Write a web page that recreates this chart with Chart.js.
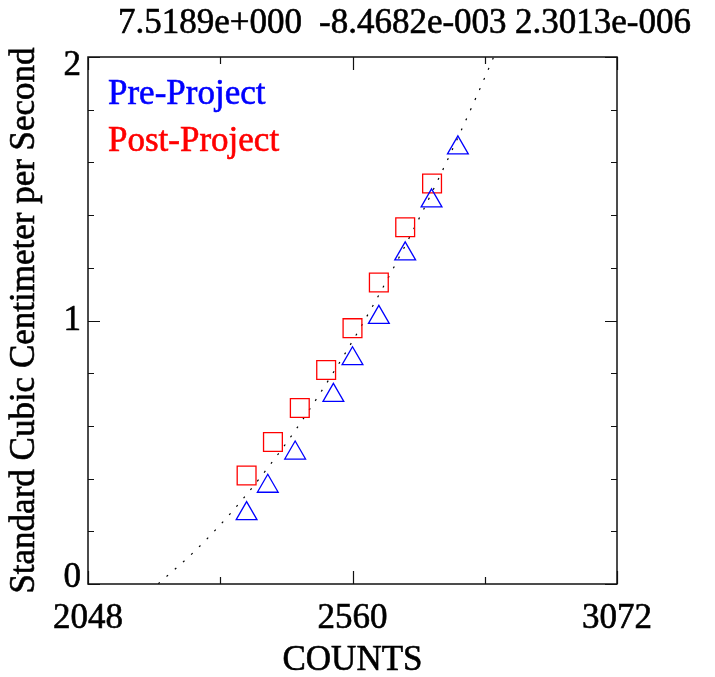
<!DOCTYPE html>
<html><head><meta charset="utf-8">
<script src="https://cdn.jsdelivr.net/npm/chart.js@4/dist/chart.umd.min.js"></script>
<style>html,body{margin:0;padding:0;background:#fff}#wrap{width:715px;height:677px;position:relative}</style>
</head><body><div id="wrap"><canvas id="c" width="715" height="677"></canvas></div>
<script>
// ---- data ----
const fitCoefficients = ['7.5189e+000', '-8.4682e-003', '2.3013e-006'];
const preLabel = 'Pre-Project';
const postLabel = 'Post-Project';
const preCounts = [2355, 2396, 2449, 2523, 2560, 2611, 2662, 2713, 2764];
const preFlow   = [0.267, 0.371, 0.497, 0.716, 0.855, 1.012, 1.253, 1.454, 1.655];
const postCounts = [2355, 2406, 2458, 2509, 2560, 2611, 2662, 2714];
const postFlow   = [0.412, 0.539, 0.668, 0.812, 0.971, 1.144, 1.354, 1.520];
const fitCounts = [2184, 2250, 2300, 2350, 2400, 2450, 2500, 2550, 2600, 2650, 2700, 2750, 2800, 2833];
const fitFlow   = [0.001, 0.116, 0.216, 0.328, 0.451, 0.585, 0.732, 0.889, 1.058, 1.239, 1.431, 1.635, 1.850, 1.999];
const xTickLabels = [2048, 2560, 3072];
const xMinorTicks = [2304, 2816];
const yTickLabels = [0, 1, 2];
const yMinorTicks = [0.2, 0.4, 0.6, 0.8, 1.2, 1.4, 1.6, 1.8];
const xTitle = 'COUNTS';
const yTitle = 'Standard Cubic Centimeter per Second';

const FONT = 'Liberation Serif';
const pts = (xs, ys) => xs.map((v, i) => ({x: v, y: ys[i]}));

function heavyText(ctx, t, x, y, color) {
  ctx.fillStyle = color; ctx.strokeStyle = color;
  ctx.lineWidth = 0.6;
  ctx.fillText(t, x, y);
  ctx.strokeText(t, x, y);
}

const frameTicks = {
  id: 'frameTicks',
  afterDatasetsDraw(chart) {
    const {ctx, chartArea: {left, right, top, bottom}, scales: {x, y}} = chart;
    ctx.save();
    ctx.strokeStyle = '#111';
    ctx.lineWidth = 1.5;
    ctx.strokeRect(left, top, right - left, bottom - top);
    ctx.lineWidth = 1.2;
    ctx.beginPath();
    const xt = (v, len) => {
      const px = Math.round(x.getPixelForValue(v)) + 0.5;
      ctx.moveTo(px, bottom); ctx.lineTo(px, bottom - len);
      ctx.moveTo(px, top); ctx.lineTo(px, top + len);
    };
    const yt = (v, len) => {
      const py = Math.round(y.getPixelForValue(v)) + 0.5;
      ctx.moveTo(left, py); ctx.lineTo(left + len, py);
      ctx.moveTo(right, py); ctx.lineTo(right - len, py);
    };
    xTickLabels.forEach(v => xt(v, 13));
    xMinorTicks.forEach(v => xt(v, 7));
    yTickLabels.forEach(v => yt(v, 12));
    yMinorTicks.forEach(v => yt(v, 6));
    ctx.stroke();
    ctx.restore();
  },
  afterDraw(chart) {
    const {ctx, scales: {x, y}, chartArea: {left, right, top, bottom}} = chart;
    ctx.save();
    ctx.font = '35px "' + FONT + '"';
    // y tick labels
    ctx.textAlign = 'right';
    ctx.textBaseline = 'middle';
    const yShift = [-6, 0, 9];
    yTickLabels.forEach((v, i) => heavyText(ctx, String(v), left - 7, y.getPixelForValue(v) + yShift[i], '#000'));
    // x tick labels
    ctx.textAlign = 'center';
    ctx.textBaseline = 'top';
    xTickLabels.forEach(v => heavyText(ctx, String(v), x.getPixelForValue(v), bottom + 17, '#000'));
    // x title
    ctx.textBaseline = 'middle';
    heavyText(ctx, xTitle, (left + right) / 2, 661, '#000');
    // y title
    ctx.save();
    ctx.translate(25, (top + bottom) / 2);
    ctx.rotate(-Math.PI / 2);
    heavyText(ctx, yTitle, 0, 0, '#000');
    ctx.restore();
    // fit coefficients on top
    ctx.textBaseline = 'alphabetic';
    ctx.textAlign = 'left';
    const titleX = [118, 319, 515];
    fitCoefficients.forEach((t, i) => heavyText(ctx, t, titleX[i], 33, '#000'));
    // legend inside plot
    let ly = 104;
    chart.data.datasets.forEach(ds => {
      if (!ds.inLegend) return;
      heavyText(ctx, ds.label, 108, ly, ds.borderColor);
      ly += 47;
    });
    ctx.restore();
  }
};

new Chart(document.getElementById('c'), {
  type: 'scatter',
  data: {
    datasets: [
      {label: preLabel, inLegend: true, data: pts(preCounts, preFlow), pointStyle: 'triangle', radius: 12,
       borderColor: '#0000ff', backgroundColor: 'rgba(0,0,0,0)', borderWidth: 1.3, showLine: false},
      {label: postLabel, inLegend: true, data: pts(postCounts, postFlow), pointStyle: 'rect', radius: 13.3,
       borderColor: '#ff0000', backgroundColor: 'rgba(0,0,0,0)', borderWidth: 1.3, showLine: false},
      {label: 'fit', type: 'line', data: pts(fitCounts, fitFlow), borderColor: '#000', borderWidth: 1.2,
       borderDash: [2, 9], pointRadius: 0, fill: false, tension: 0.3, cubicInterpolationMode: 'monotone'}
    ]
  },
  options: {
    responsive: false, animation: false, devicePixelRatio: 1,
    layout: {padding: {top: 57, right: 98, left: 0, bottom: 0}},
    plugins: {legend: {display: false}, tooltip: {enabled: false}, title: {display: false}},
    scales: {
      x: {
        type: 'linear', position: 'bottom', min: 2048, max: 3072,
        afterBuildTicks: s => { s.ticks = xTickLabels.map(v => ({value: v})); },
        afterFit: s => { s.height = 93; },
        ticks: {display: false},
        grid: {display: false, drawTicks: false},
        border: {display: false}
      },
      y: {
        type: 'linear', min: 0, max: 2,
        afterBuildTicks: s => { s.ticks = yTickLabels.map(v => ({value: v})); },
        afterFit: s => { s.width = 88; },
        ticks: {display: false},
        grid: {display: false, drawTicks: false},
        border: {display: false}
      }
    }
  },
  plugins: [frameTicks]
});
</script>
</body></html>
